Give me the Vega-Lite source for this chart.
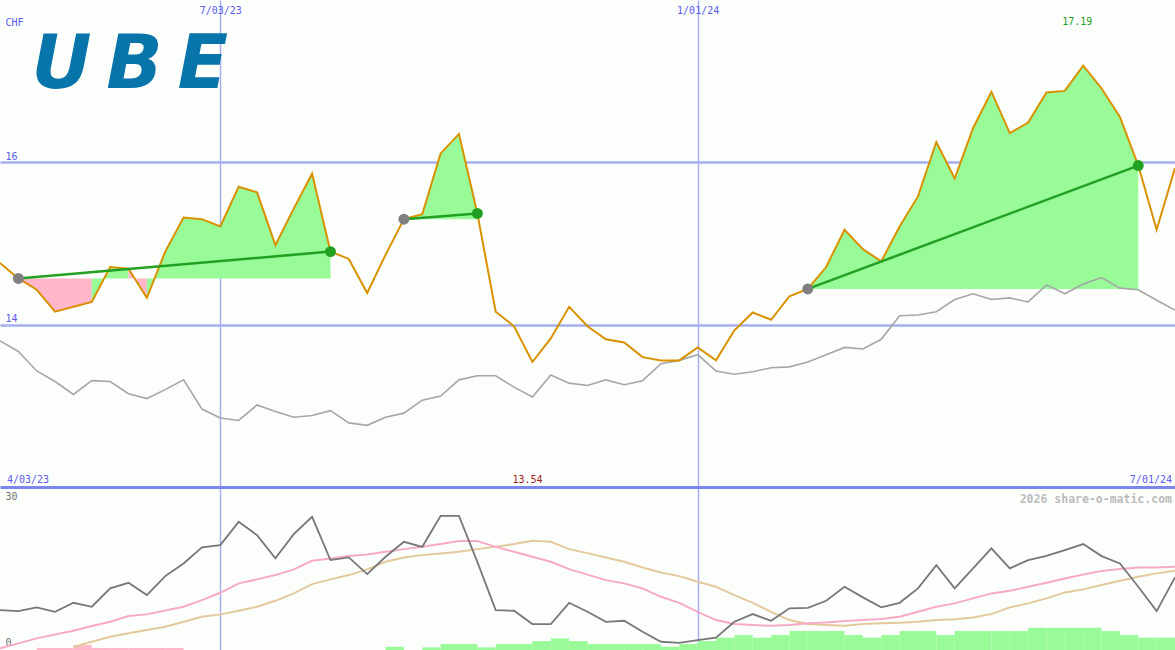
{
  "$schema": "https://vega.github.io/schema/vega-lite/v6.json",
  "background": "#fcfefc",
  "padding": 0,
  "spacing": 0,
  "bounds": "flush",
  "config": {"view": {"stroke": null}},
  "datasets": {
    "weekly": [
      {"d":"2023-04-10","price":14.76,"bench":13.80,"osc":7.68,"ma1":-0.16,"ma2":null},
      {"d":"2023-04-17","price":14.57,"bench":13.67,"osc":7.47,"ma1":0.86,"ma2":null},
      {"d":"2023-04-24","price":14.43,"bench":13.43,"osc":8.23,"ma1":1.88,"ma2":null},
      {"d":"2023-05-01","price":14.16,"bench":13.30,"osc":7.33,"ma1":2.66,"ma2":null},
      {"d":"2023-05-08","price":14.22,"bench":13.14,"osc":9.17,"ma1":3.44,"ma2":0.10},
      {"d":"2023-05-15","price":14.28,"bench":13.31,"osc":8.36,"ma1":4.40,"ma2":1.19},
      {"d":"2023-05-22","price":14.71,"bench":13.30,"osc":12.12,"ma1":5.28,"ma2":2.21},
      {"d":"2023-05-29","price":14.69,"bench":13.15,"osc":13.27,"ma1":6.45,"ma2":2.91},
      {"d":"2023-06-05","price":14.33,"bench":13.09,"osc":10.75,"ma1":6.80,"ma2":3.58},
      {"d":"2023-06-12","price":14.90,"bench":13.20,"osc":14.64,"ma1":7.58,"ma2":4.26},
      {"d":"2023-06-19","price":15.32,"bench":13.32,"osc":17.24,"ma1":8.36,"ma2":5.28},
      {"d":"2023-06-26","price":15.30,"bench":12.96,"osc":20.52,"ma1":9.73,"ma2":6.31},
      {"d":"2023-07-03","price":15.21,"bench":12.85,"osc":20.99,"ma1":11.22,"ma2":6.80},
      {"d":"2023-07-10","price":15.70,"bench":12.82,"osc":25.76,"ma1":13.15,"ma2":7.54},
      {"d":"2023-07-17","price":15.63,"bench":13.01,"osc":23.04,"ma1":13.97,"ma2":8.36},
      {"d":"2023-07-24","price":14.98,"bench":12.93,"osc":18.27,"ma1":14.85,"ma2":9.58},
      {"d":"2023-07-31","price":15.43,"bench":12.86,"osc":23.24,"ma1":16.01,"ma2":11.10},
      {"d":"2023-08-07","price":15.86,"bench":12.88,"osc":26.79,"ma1":17.78,"ma2":13.00},
      {"d":"2023-08-14","price":14.90,"bench":12.94,"osc":17.92,"ma1":18.27,"ma2":13.97},
      {"d":"2023-08-21","price":14.81,"bench":12.79,"osc":18.47,"ma1":18.74,"ma2":14.85},
      {"d":"2023-08-28","price":14.39,"bench":12.76,"osc":15.05,"ma1":19.09,"ma2":16.01},
      {"d":"2023-09-04","price":14.86,"bench":12.86,"osc":18.60,"ma1":19.62,"ma2":17.57},
      {"d":"2023-09-11","price":15.30,"bench":12.91,"osc":21.67,"ma1":20.17,"ma2":18.47},
      {"d":"2023-09-18","price":15.36,"bench":13.07,"osc":20.64,"ma1":20.64,"ma2":18.94},
      {"d":"2023-09-25","price":16.11,"bench":13.12,"osc":26.99,"ma1":21.20,"ma2":19.29},
      {"d":"2023-10-02","price":16.35,"bench":13.32,"osc":26.99,"ma1":21.81,"ma2":19.62},
      {"d":"2023-10-09","price":15.37,"bench":13.37,"osc":17.57,"ma1":21.81,"ma2":20.17},
      {"d":"2023-10-16","price":14.16,"bench":13.37,"osc":7.68,"ma1":20.64,"ma2":20.64},
      {"d":"2023-10-23","price":13.98,"bench":13.23,"osc":7.54,"ma1":19.62,"ma2":21.20},
      {"d":"2023-10-30","price":13.54,"bench":13.11,"osc":4.81,"ma1":18.60,"ma2":21.87},
      {"d":"2023-11-06","price":13.83,"bench":13.38,"osc":4.81,"ma1":17.57,"ma2":21.67},
      {"d":"2023-11-13","price":14.22,"bench":13.28,"osc":9.17,"ma1":16.08,"ma2":20.17},
      {"d":"2023-11-20","price":13.98,"bench":13.25,"osc":7.33,"ma1":14.95,"ma2":19.35},
      {"d":"2023-11-27","price":13.82,"bench":13.32,"osc":5.28,"ma1":13.82,"ma2":18.47},
      {"d":"2023-12-04","price":13.78,"bench":13.26,"osc":5.49,"ma1":13.15,"ma2":17.57},
      {"d":"2023-12-11","price":13.60,"bench":13.31,"osc":3.24,"ma1":12.12,"ma2":16.42},
      {"d":"2023-12-18","price":13.56,"bench":13.52,"osc":1.19,"ma1":10.40,"ma2":15.40},
      {"d":"2023-12-25","price":13.56,"bench":13.56,"osc":0.98,"ma1":9.17,"ma2":14.64},
      {"d":"2024-01-01","price":13.72,"bench":13.63,"osc":1.54,"ma1":7.33,"ma2":13.48},
      {"d":"2024-01-08","price":13.56,"bench":13.43,"osc":2.01,"ma1":5.63,"ma2":12.45},
      {"d":"2024-01-15","price":13.93,"bench":13.39,"osc":5.28,"ma1":4.81,"ma2":10.75},
      {"d":"2024-01-22","price":14.15,"bench":13.42,"osc":6.86,"ma1":4.61,"ma2":9.17},
      {"d":"2024-01-29","price":14.06,"bench":13.47,"osc":5.49,"ma1":4.46,"ma2":7.33},
      {"d":"2024-02-05","price":14.35,"bench":13.48,"osc":8.03,"ma1":4.61,"ma2":5.63},
      {"d":"2024-02-12","price":14.44,"bench":13.54,"osc":8.15,"ma1":4.96,"ma2":4.81},
      {"d":"2024-02-19","price":14.71,"bench":13.63,"osc":9.58,"ma1":5.16,"ma2":4.61},
      {"d":"2024-02-26","price":15.17,"bench":13.72,"osc":12.45,"ma1":5.43,"ma2":4.46},
      {"d":"2024-03-04","price":14.93,"bench":13.70,"osc":10.28,"ma1":5.63,"ma2":4.81},
      {"d":"2024-03-11","price":14.78,"bench":13.82,"osc":8.23,"ma1":5.84,"ma2":4.96},
      {"d":"2024-03-18","price":15.21,"bench":14.11,"osc":9.17,"ma1":6.31,"ma2":5.08},
      {"d":"2024-03-25","price":15.58,"bench":14.12,"osc":12.12,"ma1":7.33,"ma2":5.28},
      {"d":"2024-04-01","price":16.25,"bench":14.16,"osc":16.90,"ma1":8.36,"ma2":5.63},
      {"d":"2024-04-08","price":15.80,"bench":14.31,"osc":12.12,"ma1":9.05,"ma2":5.78},
      {"d":"2024-04-15","price":16.42,"bench":14.38,"osc":16.22,"ma1":10.08,"ma2":6.18},
      {"d":"2024-04-22","price":16.87,"bench":14.31,"osc":20.32,"ma1":11.10,"ma2":6.86},
      {"d":"2024-04-29","price":16.36,"bench":14.33,"osc":16.22,"ma1":11.63,"ma2":8.23},
      {"d":"2024-05-06","price":16.49,"bench":14.28,"osc":17.92,"ma1":12.45,"ma2":9.05},
      {"d":"2024-05-13","price":16.86,"bench":14.49,"osc":18.80,"ma1":13.27,"ma2":10.08},
      {"d":"2024-05-20","price":16.88,"bench":14.38,"osc":19.97,"ma1":14.17,"ma2":11.30},
      {"d":"2024-05-27","price":17.19,"bench":14.50,"osc":21.20,"ma1":14.99,"ma2":11.92},
      {"d":"2024-06-03","price":16.91,"bench":14.58,"osc":18.74,"ma1":15.67,"ma2":12.80},
      {"d":"2024-06-10","price":16.56,"bench":14.45,"osc":17.24,"ma1":16.08,"ma2":13.68},
      {"d":"2024-06-17","price":15.96,"bench":14.43,"osc":12.45,"ma1":16.42,"ma2":14.50},
      {"d":"2024-06-24","price":15.17,"bench":14.30,"osc":7.47,"ma1":16.42,"ma2":15.20},
      {"d":"2024-07-01","price":15.93,"bench":14.18,"osc":14.38,"ma1":16.55,"ma2":15.73}
    ],
    "fills": [
      {"run":"1a","dir":"down","d":"2023-04-17","price":14.57,"base":14.57},
      {"run":"1a","dir":"down","d":"2023-04-24","price":14.43,"base":14.57},
      {"run":"1a","dir":"down","d":"2023-05-01","price":14.16,"base":14.57},
      {"run":"1a","dir":"down","d":"2023-05-08","price":14.22,"base":14.57},
      {"run":"1a","dir":"down","d":"2023-05-15","price":14.28,"base":14.57},
      {"run":"1b","dir":"up","d":"2023-05-15","price":14.28,"base":14.57},
      {"run":"1b","dir":"up","d":"2023-05-22","price":14.71,"base":14.57},
      {"run":"1b","dir":"up","d":"2023-05-29","price":14.69,"base":14.57},
      {"run":"1c","dir":"down","d":"2023-05-29","price":14.69,"base":14.57},
      {"run":"1c","dir":"down","d":"2023-06-05","price":14.33,"base":14.57},
      {"run":"1d","dir":"up","d":"2023-06-05","price":14.33,"base":14.57},
      {"run":"1d","dir":"up","d":"2023-06-12","price":14.90,"base":14.57},
      {"run":"1d","dir":"up","d":"2023-06-19","price":15.32,"base":14.57},
      {"run":"1d","dir":"up","d":"2023-06-26","price":15.30,"base":14.57},
      {"run":"1d","dir":"up","d":"2023-07-03","price":15.21,"base":14.57},
      {"run":"1d","dir":"up","d":"2023-07-10","price":15.70,"base":14.57},
      {"run":"1d","dir":"up","d":"2023-07-17","price":15.63,"base":14.57},
      {"run":"1d","dir":"up","d":"2023-07-24","price":14.98,"base":14.57},
      {"run":"1d","dir":"up","d":"2023-07-31","price":15.43,"base":14.57},
      {"run":"1d","dir":"up","d":"2023-08-07","price":15.86,"base":14.57},
      {"run":"1d","dir":"up","d":"2023-08-14","price":14.90,"base":14.57},
      {"run":"2a","dir":"up","d":"2023-09-11","price":15.30,"base":15.30},
      {"run":"2a","dir":"up","d":"2023-09-18","price":15.36,"base":15.30},
      {"run":"2a","dir":"up","d":"2023-09-25","price":16.11,"base":15.30},
      {"run":"2a","dir":"up","d":"2023-10-02","price":16.35,"base":15.30},
      {"run":"2a","dir":"up","d":"2023-10-09","price":15.37,"base":15.30},
      {"run":"3a","dir":"up","d":"2024-02-12","price":14.44,"base":14.44},
      {"run":"3a","dir":"up","d":"2024-02-19","price":14.71,"base":14.44},
      {"run":"3a","dir":"up","d":"2024-02-26","price":15.17,"base":14.44},
      {"run":"3a","dir":"up","d":"2024-03-04","price":14.93,"base":14.44},
      {"run":"3a","dir":"up","d":"2024-03-11","price":14.78,"base":14.44},
      {"run":"3a","dir":"up","d":"2024-03-18","price":15.21,"base":14.44},
      {"run":"3a","dir":"up","d":"2024-03-25","price":15.58,"base":14.44},
      {"run":"3a","dir":"up","d":"2024-04-01","price":16.25,"base":14.44},
      {"run":"3a","dir":"up","d":"2024-04-08","price":15.80,"base":14.44},
      {"run":"3a","dir":"up","d":"2024-04-15","price":16.42,"base":14.44},
      {"run":"3a","dir":"up","d":"2024-04-22","price":16.87,"base":14.44},
      {"run":"3a","dir":"up","d":"2024-04-29","price":16.36,"base":14.44},
      {"run":"3a","dir":"up","d":"2024-05-06","price":16.49,"base":14.44},
      {"run":"3a","dir":"up","d":"2024-05-13","price":16.86,"base":14.44},
      {"run":"3a","dir":"up","d":"2024-05-20","price":16.88,"base":14.44},
      {"run":"3a","dir":"up","d":"2024-05-27","price":17.19,"base":14.44},
      {"run":"3a","dir":"up","d":"2024-06-03","price":16.91,"base":14.44},
      {"run":"3a","dir":"up","d":"2024-06-10","price":16.56,"base":14.44},
      {"run":"3a","dir":"up","d":"2024-06-17","price":15.96,"base":14.44}
    ],
    "trades": [
      {"trade":1,"kind":"entry","d":"2023-04-17","price":14.57},
      {"trade":1,"kind":"exit","d":"2023-08-14","price":14.90},
      {"trade":2,"kind":"entry","d":"2023-09-11","price":15.30},
      {"trade":2,"kind":"exit","d":"2023-10-09","price":15.37},
      {"trade":3,"kind":"entry","d":"2024-02-12","price":14.44},
      {"trade":3,"kind":"exit","d":"2024-06-17","price":15.96}
    ],
    "bars": [
      {"d":"2023-04-24","e":"2023-05-01","v":-0.1,"dir":"down"},
      {"d":"2023-05-01","e":"2023-05-08","v":-0.1,"dir":"down"},
      {"d":"2023-05-08","e":"2023-05-15","v":0.51,"dir":"down"},
      {"d":"2023-05-15","e":"2023-05-22","v":-0.1,"dir":"down"},
      {"d":"2023-05-22","e":"2023-05-29","v":-0.1,"dir":"down"},
      {"d":"2023-05-29","e":"2023-06-05","v":-0.1,"dir":"down"},
      {"d":"2023-06-05","e":"2023-06-12","v":-0.1,"dir":"down"},
      {"d":"2023-06-12","e":"2023-06-19","v":-0.1,"dir":"down"},
      {"d":"2023-09-04","e":"2023-09-11","v":0.16,"dir":"up"},
      {"d":"2023-09-18","e":"2023-09-25","v":0.04,"dir":"up"},
      {"d":"2023-09-25","e":"2023-10-02","v":0.72,"dir":"up"},
      {"d":"2023-10-02","e":"2023-10-09","v":0.72,"dir":"up"},
      {"d":"2023-10-09","e":"2023-10-16","v":0.04,"dir":"up"},
      {"d":"2023-10-16","e":"2023-10-23","v":0.72,"dir":"up"},
      {"d":"2023-10-23","e":"2023-10-30","v":0.72,"dir":"up"},
      {"d":"2023-10-30","e":"2023-11-06","v":1.33,"dir":"up"},
      {"d":"2023-11-06","e":"2023-11-13","v":1.88,"dir":"up"},
      {"d":"2023-11-13","e":"2023-11-20","v":1.33,"dir":"up"},
      {"d":"2023-11-20","e":"2023-11-27","v":0.72,"dir":"up"},
      {"d":"2023-11-27","e":"2023-12-04","v":0.72,"dir":"up"},
      {"d":"2023-12-04","e":"2023-12-11","v":0.72,"dir":"up"},
      {"d":"2023-12-11","e":"2023-12-18","v":0.72,"dir":"up"},
      {"d":"2023-12-18","e":"2023-12-25","v":0.16,"dir":"up"},
      {"d":"2023-12-25","e":"2024-01-01","v":0.72,"dir":"up"},
      {"d":"2024-01-01","e":"2024-01-08","v":1.33,"dir":"up"},
      {"d":"2024-01-08","e":"2024-01-15","v":2.01,"dir":"up"},
      {"d":"2024-01-15","e":"2024-01-22","v":2.56,"dir":"up"},
      {"d":"2024-01-22","e":"2024-01-29","v":2.01,"dir":"up"},
      {"d":"2024-01-29","e":"2024-02-05","v":2.56,"dir":"up"},
      {"d":"2024-02-05","e":"2024-02-12","v":3.38,"dir":"up"},
      {"d":"2024-02-12","e":"2024-02-19","v":3.38,"dir":"up"},
      {"d":"2024-02-19","e":"2024-02-26","v":3.38,"dir":"up"},
      {"d":"2024-02-26","e":"2024-03-04","v":2.56,"dir":"up"},
      {"d":"2024-03-04","e":"2024-03-11","v":2.01,"dir":"up"},
      {"d":"2024-03-11","e":"2024-03-18","v":2.56,"dir":"up"},
      {"d":"2024-03-18","e":"2024-03-25","v":3.38,"dir":"up"},
      {"d":"2024-03-25","e":"2024-04-01","v":3.38,"dir":"up"},
      {"d":"2024-04-01","e":"2024-04-08","v":2.56,"dir":"up"},
      {"d":"2024-04-08","e":"2024-04-15","v":3.38,"dir":"up"},
      {"d":"2024-04-15","e":"2024-04-22","v":3.38,"dir":"up"},
      {"d":"2024-04-22","e":"2024-04-29","v":3.38,"dir":"up"},
      {"d":"2024-04-29","e":"2024-05-06","v":3.38,"dir":"up"},
      {"d":"2024-05-06","e":"2024-05-13","v":4.05,"dir":"up"},
      {"d":"2024-05-13","e":"2024-05-20","v":4.05,"dir":"up"},
      {"d":"2024-05-20","e":"2024-05-27","v":4.05,"dir":"up"},
      {"d":"2024-05-27","e":"2024-06-03","v":4.05,"dir":"up"},
      {"d":"2024-06-03","e":"2024-06-10","v":3.38,"dir":"up"},
      {"d":"2024-06-10","e":"2024-06-17","v":2.56,"dir":"up"},
      {"d":"2024-06-17","e":"2024-06-24","v":2.01,"dir":"up"},
      {"d":"2024-06-24","e":"2024-07-01","v":2.01,"dir":"up"}
    ]
  },
  "vconcat": [
    {
      "width": 1175,
      "height": 487,
      "encoding": {
        "x": {
          "field": "d", "type": "temporal",
          "scale": {"type": "utc", "domain": [{"year": 2023, "month": 4, "date": 10, "utc": true}, {"year": 2024, "month": 7, "date": 1, "utc": true}]},
          "axis": {
            "orient": "top",
            "values": [{"year": 2023, "month": 7, "date": 3, "utc": true}, {"year": 2024, "month": 1, "date": 1, "utc": true}],
            "grid": true, "gridColor": "#a5aef2", "gridWidth": 1.5, "gridOpacity": 1,
            "domain": false, "ticks": false, "tickSize": 0,
            "labelPadding": -13, "labelBaseline": "alphabetic", "labelAlign": "center",
            "labelColor": "#5b5bef", "labelFont": "DejaVu Sans Mono", "labelFontSize": 10,
            "labelExpr": "utcFormat(datum.value, '%-m/%d/%y')",
            "labelFlush": false, "labelOverlap": false, "title": null
          }
        },
        "y": {
          "field": "price", "type": "quantitative",
          "scale": {"domain": [12, 18], "nice": false, "zero": false},
          "axis": {
            "values": [14, 16],
            "grid": true, "gridColor": "#a5aef2", "gridWidth": 2.5, "gridOpacity": 1,
            "domain": false, "ticks": false, "tickSize": 0,
            "labelPadding": -5, "labelAlign": "left", "labelBaseline": "alphabetic", "labelOffset": -3,
            "labelColor": "#5b5bef", "labelFont": "DejaVu Sans Mono", "labelFontSize": 10,
            "title": "CHF", "titleAngle": 0, "titleX": 5, "titleY": 25,
            "titleAlign": "left", "titleBaseline": "alphabetic",
            "titleColor": "#5b5bef", "titleFont": "DejaVu Sans Mono", "titleFontSize": 10, "titleFontWeight": "normal"
          }
        }
      },
      "layer": [
        {
          "data": {"name": "fills"},
          "mark": {"type": "area", "clip": true, "opacity": 1},
          "encoding": {
            "y2": {"field": "base"},
            "color": {"field": "dir", "type": "nominal", "scale": {"domain": ["up", "down"], "range": ["#98fb98", "#ffb6c8"]}, "legend": null},
            "detail": {"field": "run"}
          }
        },
        {
          "data": {"name": "weekly"},
          "mark": {"type": "line", "color": "#a6a6a6", "strokeWidth": 1.6, "clip": true},
          "encoding": {"y": {"field": "bench", "type": "quantitative", "scale": {"domain": [12, 18], "nice": false, "zero": false}}}
        },
        {
          "data": {"name": "weekly"},
          "mark": {"type": "line", "color": "#d99100", "strokeWidth": 2, "clip": true}
        },
        {
          "data": {"name": "trades"},
          "mark": {"type": "line", "color": "#22a022", "strokeWidth": 2.5, "clip": true},
          "encoding": {"detail": {"field": "trade"}}
        },
        {
          "data": {"name": "trades"},
          "mark": {"type": "circle", "opacity": 1, "size": 120},
          "encoding": {
            "color": {"field": "kind", "type": "nominal", "scale": {"domain": ["entry", "exit"], "range": ["#808080", "#22a022"]}, "legend": null}
          }
        },
        {
          "data": {"values": [{"d": "2023-04-22", "price": 16.92, "label": "U\u2009B\u2009E"}]},
          "mark": {"type": "text", "font": "DejaVu Sans", "fontSize": 74, "fontWeight": "bold", "fontStyle": "italic", "align": "left", "baseline": "alphabetic", "color": "#0775aa"},
          "encoding": {"text": {"field": "label"}}
        },
        {
          "data": {"values": [{"d": "2023-04-10", "price": 12.05, "label": "4/03/23"}]},
          "mark": {"type": "text", "font": "DejaVu Sans Mono", "fontSize": 10, "align": "left", "baseline": "alphabetic", "dx": 7, "color": "#5b5bef"},
          "encoding": {"text": {"field": "label"}}
        },
        {
          "data": {"values": [{"d": "2024-07-01", "price": 12.05, "label": "7/01/24"}]},
          "mark": {"type": "text", "font": "DejaVu Sans Mono", "fontSize": 10, "align": "right", "baseline": "alphabetic", "dx": -3, "color": "#5b5bef"},
          "encoding": {"text": {"field": "label"}}
        },
        {
          "data": {"values": [{"d": "2023-10-30", "price": 12.05, "label": "13.54"}]},
          "mark": {"type": "text", "font": "DejaVu Sans Mono", "fontSize": 10, "align": "center", "baseline": "alphabetic", "dx": -5, "color": "#a01c1c"},
          "encoding": {"text": {"field": "label"}}
        },
        {
          "data": {"values": [{"d": "2024-05-27", "price": 17.69, "label": "17.19"}]},
          "mark": {"type": "text", "font": "DejaVu Sans Mono", "fontSize": 10, "align": "center", "baseline": "alphabetic", "dx": -6, "color": "#22a022"},
          "encoding": {"text": {"field": "label"}}
        }
      ],
      "resolve": {"scale": {"color": "independent"}}
    },
    {
      "width": 1175,
      "height": 163,
      "encoding": {
        "x": {
          "field": "d", "type": "temporal",
          "scale": {"type": "utc", "domain": [{"year": 2023, "month": 4, "date": 10, "utc": true}, {"year": 2024, "month": 7, "date": 1, "utc": true}]},
          "axis": {
            "orient": "top",
            "values": [{"year": 2023, "month": 7, "date": 3, "utc": true}, {"year": 2024, "month": 1, "date": 1, "utc": true}],
            "grid": true, "gridColor": "#a5aef2", "gridWidth": 1.5, "gridOpacity": 1,
            "labels": false, "ticks": false, "tickSize": 0,
            "domain": true, "domainColor": "#7b86ee", "domainWidth": 3,
            "title": null
          }
        }
      },
      "layer": [
        {
          "data": {"name": "bars"},
          "mark": {"type": "rect", "clip": true},
          "encoding": {
            "x2": {"field": "e"},
            "y": {
              "field": "v", "type": "quantitative",
              "scale": {"domain": [-0.5, 32.9], "nice": false, "zero": false},
              "axis": {
                "values": [0, 30], "grid": false, "domain": false, "ticks": false, "tickSize": 0,
                "labelPadding": -5, "labelAlign": "left", "labelBaseline": "alphabetic", "labelOffset": -2,
                "labelColor": "#707070", "labelFont": "DejaVu Sans Mono", "labelFontSize": 10, "title": null
              }
            },
            "y2": {"datum": -0.5},
            "color": {"field": "dir", "type": "nominal", "scale": {"domain": ["up", "down"], "range": ["#98fb98", "#ffb6c8"]}, "legend": null}
          }
        },
        {
          "data": {"name": "weekly"},
          "mark": {"type": "line", "color": "#e3c99b", "strokeWidth": 2, "clip": true},
          "encoding": {"y": {"field": "ma2", "type": "quantitative", "scale": {"domain": [-0.5, 32.9], "nice": false, "zero": false}}}
        },
        {
          "data": {"name": "weekly"},
          "mark": {"type": "line", "color": "#f7aac6", "strokeWidth": 2, "clip": true},
          "encoding": {"y": {"field": "ma1", "type": "quantitative", "scale": {"domain": [-0.5, 32.9], "nice": false, "zero": false}}}
        },
        {
          "data": {"name": "weekly"},
          "mark": {"type": "line", "color": "#777777", "strokeWidth": 1.8, "clip": true},
          "encoding": {"y": {"field": "osc", "type": "quantitative", "scale": {"domain": [-0.5, 32.9], "nice": false, "zero": false}}}
        },
        {
          "data": {"values": [{"d": "2024-07-01", "v": 29.6, "label": "2026 share-o-matic.com"}]},
          "mark": {"type": "text", "font": "DejaVu Sans Mono", "fontSize": 11.5, "fontWeight": "bold", "align": "right", "baseline": "alphabetic", "dx": -3, "color": "#bcbcbc"},
          "encoding": {
            "y": {"field": "v", "type": "quantitative", "scale": {"domain": [-0.5, 32.9], "nice": false, "zero": false}},
            "text": {"field": "label"}
          }
        }
      ]
    }
  ]
}
